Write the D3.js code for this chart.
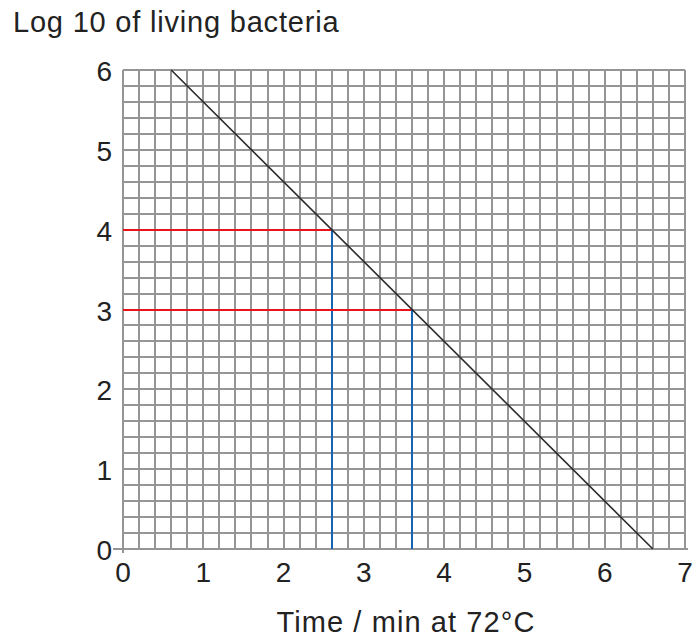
<!DOCTYPE html>
<html>
<head>
<meta charset="utf-8">
<script src="https://cdn.jsdelivr.net/npm/d3@7"></script>
<style>
  body { margin: 0; background: #fff; }
  svg { display: block; }
  text { font-family: "Liberation Sans", Arial, sans-serif; fill: #222; }
</style>
</head>
<body>
<svg id="chart" width="693" height="637"></svg>
<script>
// data
const xTicks = [0, 1, 2, 3, 4, 5, 6, 7];
const yTicks = [0, 1, 2, 3, 4, 5, 6];
const lineX = [0.6, 6.6];
const lineY = [6, 0];
const readY = [4, 3];       // red guide lines
const readX = [2.6, 3.6];   // blue guide lines

const svg = d3.select("#chart");

const x = d3.scaleLinear().domain([0, 7]).range([123, 685]);
const y = d3.scaleLinear().domain([0, 6]).range([549, 70]);

// minor grid every 0.2
const gx = d3.range(0, 35 + 1).map(i => i * 0.2);
const gy = d3.range(0, 30 + 1).map(i => i * 0.2);

const grid = svg.append("g").attr("stroke", "#959595").attr("stroke-width", 2);
grid.selectAll(".vx")
  .data(gx)
  .join("line")
  .attr("x1", d => Math.round(x(d))).attr("x2", d => Math.round(x(d)))
  .attr("y1", y(6)).attr("y2", y(0));
grid.selectAll(".hy")
  .data(gy)
  .join("line")
  .attr("y1", d => Math.round(y(d))).attr("y2", d => Math.round(y(d)))
  .attr("x1", x(0)).attr("x2", x(7));

// axes extend a little past the corner
grid.append("line")
  .attr("x1", x(0) - 10).attr("x2", x(7) + 3)
  .attr("y1", Math.round(y(0))).attr("y2", Math.round(y(0)));
grid.append("line")
  .attr("x1", x(0)).attr("x2", x(0))
  .attr("y1", y(6)).attr("y2", y(0) + 4);

// guide lines
readY.forEach((v, i) => {
  svg.append("line")
    .attr("x1", x(0)).attr("x2", x(readX[i]))
    .attr("y1", Math.round(y(v))).attr("y2", Math.round(y(v)))
    .attr("stroke", "#e8141c").attr("stroke-width", 2);
  svg.append("line")
    .attr("x1", Math.round(x(readX[i]))).attr("x2", Math.round(x(readX[i])))
    .attr("y1", y(v)).attr("y2", y(0))
    .attr("stroke", "#1565b4").attr("stroke-width", 2);
});

// the line
svg.append("path")
  .datum(lineX.map((d, i) => [d, lineY[i]]))
  .attr("fill", "none")
  .attr("stroke", "#2a2a2a")
  .attr("stroke-width", 1.6)
  .attr("d", d3.line().x(d => x(d[0])).y(d => y(d[1])));

// tick labels
svg.selectAll(".xl")
  .data(xTicks)
  .join("text")
  .attr("x", d => x(d))
  .attr("y", 582)
  .attr("text-anchor", "middle")
  .attr("font-size", 28)
  .text(d => d);

svg.selectAll(".yl")
  .data(yTicks)
  .join("text")
  .attr("x", 112)
  .attr("y", d => y(d) + 11)
  .attr("text-anchor", "end")
  .attr("font-size", 28)
  .text(d => d);

// titles
svg.append("text")
  .attr("x", 13).attr("y", 32)
  .attr("font-size", 29)
  .attr("letter-spacing", 0.8)
  .text("Log 10 of living bacteria");

svg.append("text")
  .attr("x", 406).attr("y", 632)
  .attr("text-anchor", "middle")
  .attr("font-size", 29)
  .attr("letter-spacing", 1.1)
  .text("Time / min at 72\u00b0C");
</script>
</body>
</html>
